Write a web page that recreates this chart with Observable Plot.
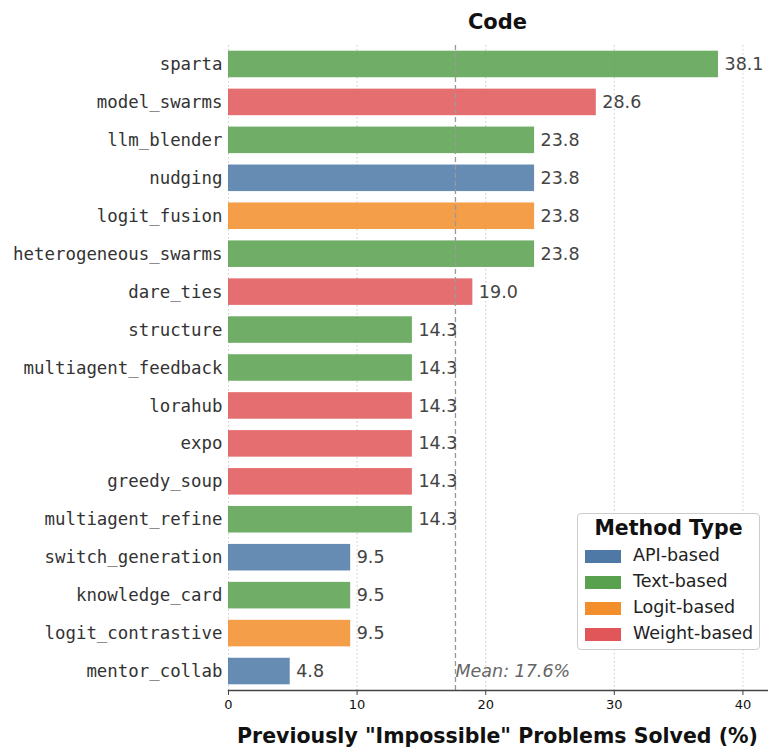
<!DOCTYPE html>
<html><head><meta charset="utf-8">
<script src="https://cdn.jsdelivr.net/npm/d3@7"></script>
<script src="https://cdn.jsdelivr.net/npm/@observablehq/plot@0.6"></script>
<style>
body{margin:0;background:#fff;font-family:"DejaVu Sans",sans-serif;}
#wrap{position:relative;width:768px;height:751px;}
#title{position:absolute;left:228px;width:539px;top:10px;text-align:center;font-weight:bold;font-size:21px;color:#111;}
#xlabel{position:absolute;left:228px;width:539px;top:724px;text-align:center;font-weight:bold;font-size:20.5px;color:#111;white-space:nowrap;}
#legend{position:absolute;left:577px;top:513px;width:183px;height:137px;border:1px solid #ccc;border-radius:4px;background:rgba(255,255,255,0.9);box-sizing:border-box;}
#legend .lt{text-align:center;font-weight:bold;font-size:20.5px;margin-top:2px;color:#111;}
#legend .row{position:absolute;left:7px;height:20px;font-size:17.5px;color:#222;}
#legend .sw{position:absolute;left:0;top:4px;width:36px;height:13px;}
#legend .lab{position:absolute;left:48px;top:-1px;white-space:nowrap;}
</style></head>
<body><div id="wrap"><div id="title"></div><div id="xlabel"></div><div id="legend"></div></div>
<script>
const methods = ["sparta","model_swarms","llm_blender","nudging","logit_fusion","heterogeneous_swarms","dare_ties","structure","multiagent_feedback","lorahub","expo","greedy_soup","multiagent_refine","switch_generation","knowledge_card","logit_contrastive","mentor_collab"];
const values = [38.1,28.6,23.8,23.8,23.8,23.8,19.0,14.3,14.3,14.3,14.3,14.3,14.3,9.5,9.5,9.5,4.8];
const types = ["Text-based","Weight-based","Text-based","API-based","Logit-based","Text-based","Weight-based","Text-based","Text-based","Weight-based","Weight-based","Weight-based","Text-based","API-based","Text-based","Logit-based","API-based"];
const typeNames = ["API-based","Text-based","Logit-based","Weight-based"];
const typeColors = ["#4e79a7","#59a14f","#f28e2b","#e15759"];
const xTicks = [0,10,20,30,40];
const titleText = "Code";
const xLabelText = "Previously \"Impossible\" Problems Solved (%)";

const data = methods.map((m,i)=>({method:m,value:values[i],type:types[i]}));
const mean = d3.mean(values);

document.getElementById("title").textContent = titleText;
document.getElementById("xlabel").textContent = xLabelText;

const chart = Plot.plot({
  width:768, height:751,
  marginLeft:228, marginRight:1, marginTop:45, marginBottom:61,
  style:{fontFamily:"DejaVu Sans, sans-serif", background:"white", overflow:"visible"},
  x:{domain:[0, d3.max(values)*1.1], ticks:xTicks, label:null},
  y:{domain:methods, label:null, paddingInner:0.3, paddingOuter:0.15, round:false},
  color:{domain:typeNames, range:typeColors},
  marks:[
    Plot.ruleX(xTicks,{stroke:"#bbb", strokeDasharray:"1.5,2.5", strokeWidth:0.8}),
    Plot.barX(data,{y:"method", x:"value", fill:"type", fillOpacity:0.86}),
    Plot.ruleX([mean],{stroke:"#999", strokeDasharray:"5,3", strokeWidth:1.3}),
    Plot.text(data,{y:"method", x:"value", text:d=>d.value.toFixed(1), textAnchor:"start", dx:6, fontSize:17.5, fill:"#444"}),
    Plot.text([mean],{x:d=>d, y:()=>methods[methods.length-1], text:d=>`Mean: ${d.toFixed(1)}%`, textAnchor:"start", dx:0, fontSize:17.5, fill:"#666", fontStyle:"italic"}),
    Plot.axisY({tickSize:0, tickPadding:6, fontSize:17.4, fontFamily:"DejaVu Sans Mono, monospace", fill:"#333"}),
    Plot.axisX({ticks:xTicks, tickSize:5, tickPadding:4, fontSize:13, stroke:"#444", fill:"#111", label:null}),
    Plot.frame({anchor:"bottom", stroke:"#444", strokeWidth:1.5})
  ]
});
chart.style.position="absolute"; chart.style.left="0"; chart.style.top="0";
document.getElementById("wrap").prepend(chart);

const leg = document.getElementById("legend");
leg.innerHTML = `<div class="lt">Method Type</div>`;
typeNames.forEach((t,i)=>{
  const r=document.createElement("div"); r.className="row"; r.style.top=(32+i*26)+"px";
  r.innerHTML=`<div class="sw" style="background:${typeColors[i]}"></div><div class="lab">${t}</div>`;
  leg.appendChild(r);
});
</script></body></html>
